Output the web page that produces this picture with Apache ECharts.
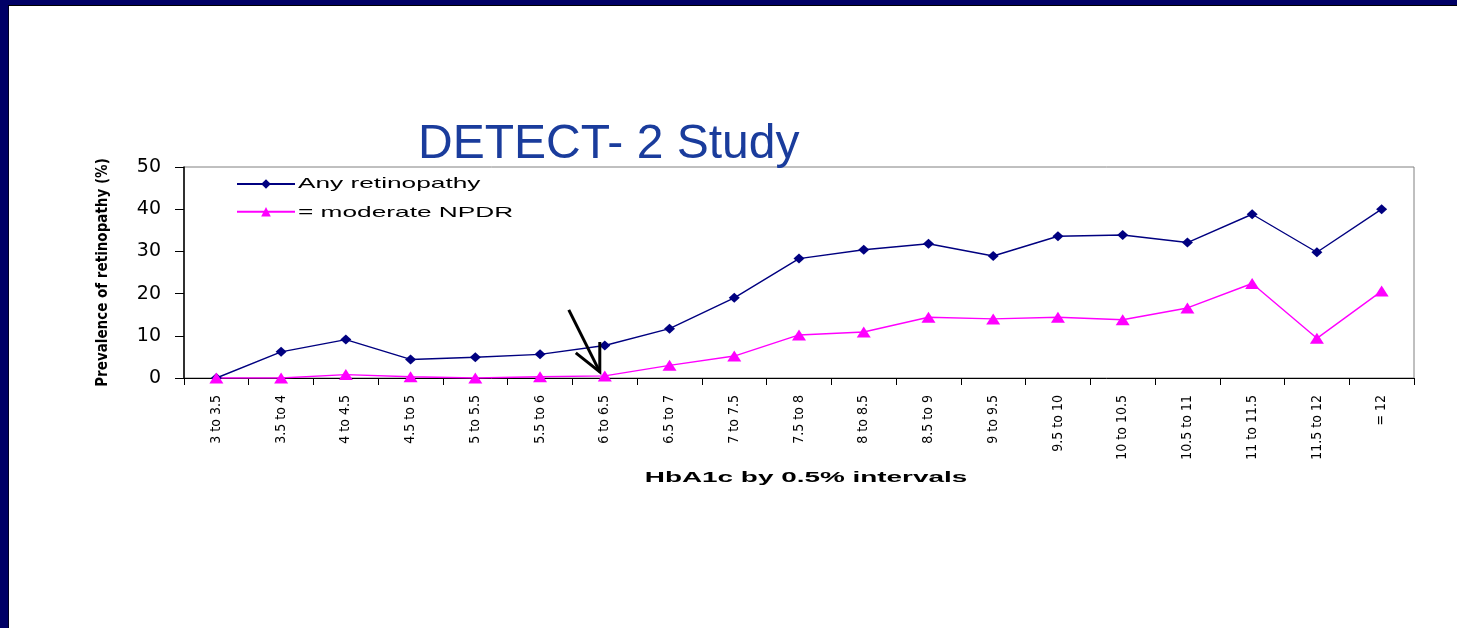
<!DOCTYPE html>
<html>
<head>
<meta charset="utf-8">
<script src="https://cdn.jsdelivr.net/npm/echarts@6/dist/echarts.min.js"></script>
<style>
html,body{margin:0;padding:0;background:#fff;}
#chart{width:1457px;height:628px;}
</style>
</head>
<body>
<div id="chart"></div>
<script>
const categories = ['3 to 3.5','3.5 to 4','4 to 4.5','4.5 to 5','5 to 5.5','5.5 to 6','6 to 6.5','6.5 to 7','7 to 7.5','7.5 to 8','8 to 8.5','8.5 to 9','9 to 9.5','9.5 to 10','10 to 10.5','10.5 to 11','11 to 11.5','11.5 to 12','= 12'];
const anyRetinopathy = [0, 6.2, 9.1, 4.4, 4.9, 5.6, 7.7, 11.7, 19.0, 28.3, 30.4, 31.8, 28.9, 33.6, 33.9, 32.1, 38.8, 29.8, 40.0];
const moderateNPDR = [0, 0, 0.8, 0.3, 0, 0.3, 0.5, 3.0, 5.2, 10.2, 10.9, 14.4, 14.0, 14.4, 13.8, 16.6, 22.4, 9.4, 20.6];
const yTicks = {min: 0, max: 50, interval: 10};
const seriesNames = ['Any retinopathy', '= moderate NPDR'];
const xAxisTitle = 'HbA1c by 0.5% intervals';
const yAxisTitle = 'Prevalence of retinopathy (%)';
const chartTitle = 'DETECT- 2 Study';

const cond = '"DejaVu Sans Condensed","Liberation Sans",Arial,sans-serif';
const arial = '"Liberation Sans",Arial,sans-serif';
const STRETCH = 1.75;

const frame = [
  {type: 'rect', shape: {x: 0, y: 0, width: 1457, height: 5}, style: {fill: '#000066'}, z: 100},
  {type: 'rect', shape: {x: 0, y: 5, width: 1457, height: 1}, style: {fill: '#000000'}, z: 100},
  {type: 'rect', shape: {x: 0, y: 0, width: 8, height: 628}, style: {fill: '#000066'}, z: 101},
  {type: 'rect', shape: {x: 8, y: 6, width: 1, height: 622}, style: {fill: '#000022'}, z: 101}
];
const stretchedTexts = [
  {type: 'text', x: 298, y: 184, scaleX: STRETCH, style: {text: seriesNames[0], font: '15px ' + arial, fill: '#000', verticalAlign: 'middle', align: 'left'}, z: 60},
  {type: 'text', x: 298, y: 213, scaleX: STRETCH, style: {text: seriesNames[1], font: '15px ' + arial, fill: '#000', verticalAlign: 'middle', align: 'left'}, z: 60},
  {type: 'text', x: 806, y: 478, scaleX: 1.86, style: {text: xAxisTitle, font: 'bold 15px ' + arial, fill: '#000', verticalAlign: 'middle', align: 'center'}, z: 60}
];

const chart = echarts.init(document.getElementById('chart'), null, {renderer: 'canvas'});
const option = {
  backgroundColor: '#ffffff',
  animation: false,
  title: {
    text: chartTitle,
    left: 413, top: 116,
    textStyle: {fontFamily: arial, fontSize: 48, fontWeight: 'normal', color: '#1a3c9c'}
  },
  legend: {
    orient: 'vertical',
    left: 231, top: 173,
    itemWidth: 58, itemHeight: 12, itemGap: 17,
    formatter: function () { return ''; },
    textStyle: {fontFamily: arial, fontSize: 12, color: '#000'},
    data: seriesNames
  },
  grid: {left: 184, top: 167, right: 43, bottom: 250, show: true, borderColor: '#808080', borderWidth: 1, containLabel: false},
  xAxis: {
    type: 'category',
    data: categories,
    boundaryGap: true,
    axisLine: {lineStyle: {color: '#000', width: 1}},
    axisTick: {show: true, alignWithLabel: false, length: 7, lineStyle: {color: '#000'}},
    axisLabel: {rotate: 90, interval: 0, margin: 17, fontFamily: cond, fontSize: 14, color: '#000'},
    splitLine: {show: false}
  },
  yAxis: {
    type: 'value',
    min: yTicks.min, max: yTicks.max, interval: yTicks.interval,
    axisLine: {show: true, lineStyle: {color: '#000', width: 1.5}},
    axisTick: {show: true, inside: false, length: 9, lineStyle: {color: '#000'}},
    axisLabel: {margin: 23, fontFamily: '"DejaVu Sans",sans-serif', fontSize: 19, color: '#000'},
    splitLine: {show: false},
    name: yAxisTitle,
    nameLocation: 'middle',
    nameGap: 73,
    nameTextStyle: {fontFamily: cond, fontSize: 15, fontWeight: 'bold', color: '#000'}
  },
  series: [
    {
      name: seriesNames[0], type: 'line', data: anyRetinopathy,
      symbol: 'diamond', symbolSize: [11, 10],
      lineStyle: {color: '#000080', width: 1.4},
      itemStyle: {color: '#000080'}
    },
    {
      name: seriesNames[1], type: 'line', data: moderateNPDR,
      symbol: 'triangle', symbolSize: [14, 11],
      lineStyle: {color: '#ff00ff', width: 1.4},
      itemStyle: {color: '#ff00ff'}
    }
  ],
  graphic: frame.concat(stretchedTexts)
};
chart.setOption(option);

// Arrow annotation pointing at the 6 to 6.5 point of the second series
const tip = chart.convertToPixel({gridIndex: 0}, [categories[6], moderateNPDR[6]]);
const tx = tip[0] - 5, ty = tip[1] - 4;
chart.setOption({
  graphic: frame.concat(stretchedTexts).concat([
    {type: 'line', shape: {x1: tx - 31, y1: ty - 62, x2: tx, y2: ty}, style: {stroke: '#000', lineWidth: 3}, z: 50},
    {type: 'polyline', shape: {points: [[tx - 24, ty - 19], [tx, ty], [tx, ty - 30]]}, style: {stroke: '#000', lineWidth: 3, fill: null}, z: 50}
  ])
});
</script>
</body>
</html>
